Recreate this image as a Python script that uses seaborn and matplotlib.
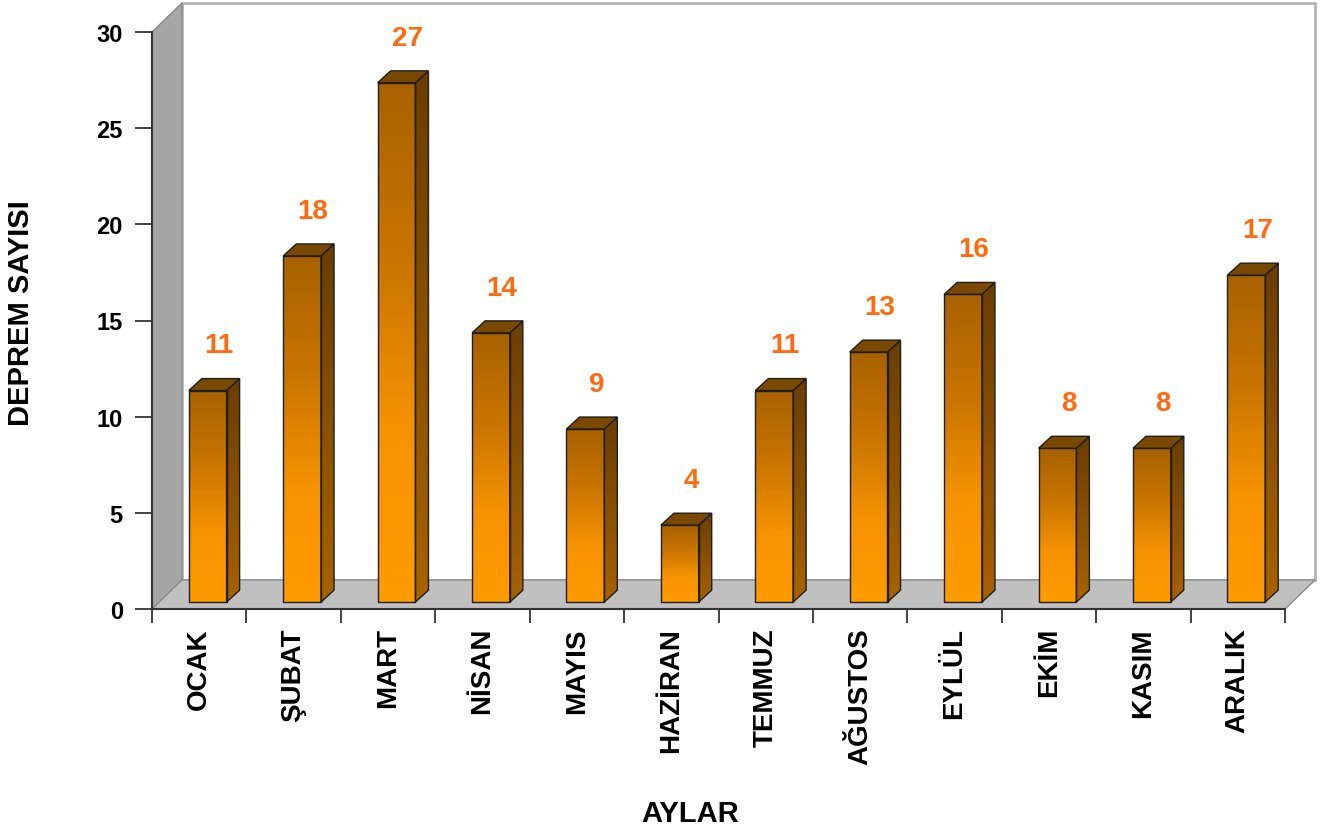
import numpy as np
import matplotlib
matplotlib.use('Agg')
import matplotlib.pyplot as plt
import seaborn as sns
from matplotlib.patches import Polygon, Rectangle
from matplotlib.colors import LinearSegmentedColormap

# data
months = ['OCAK', 'ŞUBAT', 'MART', 'NİSAN', 'MAYIS', 'HAZİRAN',
          'TEMMUZ', 'AĞUSTOS', 'EYLÜL', 'EKİM', 'KASIM', 'ARALIK']
counts = [11, 18, 27, 14, 9, 4, 11, 13, 16, 8, 8, 17]
y_ticks = [0, 5, 10, 15, 20, 25, 30]

sns.set_theme(style='white')
plt.rcParams['font.family'] = ['Liberation Sans', 'DejaVu Sans']
plt.rcParams['text.color'] = 'black'
plt.rcParams['axes.labelcolor'] = 'black'
plt.rcParams['xtick.labelcolor'] = 'black'
plt.rcParams['ytick.labelcolor'] = 'black'

fig = plt.figure(figsize=(13.26, 8.29), dpi=100)
ax = fig.add_axes([152 / 1326, 1 - 610 / 829, 1133 / 1326, 577 / 829])
ax.set_facecolor('none')

# 3D look: depth offsets in data units
wx, wy = 0.318, 1.51    # walls / floor depth
sx, sy = 0.09, 0.36     # bar front plane shift
bx, by = 0.138, 0.62    # bar depth

left, right, top = -0.5, len(months) - 0.5, 30

# back wall, left wall, floor
ax.add_patch(Rectangle((left + wx, wy), right - left, top, facecolor='white',
                       edgecolor='#b4b4b4', lw=2, clip_on=False, zorder=0))
ax.add_patch(Polygon([(left, 0), (left, top), (left + wx, top + wy), (left + wx, wy)],
                     facecolor='#a6a6a6', edgecolor='#8a8a8a', lw=1, clip_on=False, zorder=0.5))
ax.add_patch(Polygon([(left, 0), (left + wx, wy), (right + wx, wy), (right, 0)],
                     facecolor='#c0c0c0', edgecolor='#8a8a8a', lw=1, clip_on=False, zorder=0.5))

# front faces of bars
sns.barplot(x=months, y=counts, ax=ax, width=0.4, color='#ff9c00', saturation=1)

front_cmap = LinearSegmentedColormap.from_list('front', ['#ff9c00', '#f59200', '#c87400', '#a86200'])
side_cmap = LinearSegmentedColormap.from_list('side', ['#a86200', '#8a5000', '#6a3d00'])
grad = np.linspace(0, 1, 256).reshape(-1, 1)

for p in ax.patches[3:]:
    x0 = p.get_x() + sx
    w = p.get_width()
    h = p.get_height()
    p.set_x(x0)
    p.set_y(sy)
    p.set_facecolor('none')
    p.set_edgecolor('#1e1e1e')
    p.set_linewidth(1)
    p.set_zorder(4)
    y0, y1 = sy, sy + h
    im = ax.imshow(grad, cmap=front_cmap, origin='lower', aspect='auto',
                   extent=[x0, x0 + w, y0, y1], zorder=2)
    im.set_clip_path(p)
    # side face
    side = Polygon([(x0 + w, y0), (x0 + w + bx, y0 + by), (x0 + w + bx, y1 + by), (x0 + w, y1)],
                   facecolor='none', edgecolor='#1e1e1e', lw=1, zorder=4)
    ax.add_patch(side)
    ims = ax.imshow(grad, cmap=side_cmap, origin='lower', aspect='auto',
                    extent=[x0 + w, x0 + w + bx, y0, y1 + by], zorder=2)
    ims.set_clip_path(side)
    # top face
    ax.add_patch(Polygon([(x0, y1), (x0 + bx, y1 + by), (x0 + w + bx, y1 + by), (x0 + w, y1)],
                         facecolor='#7a4900', edgecolor='#1e1e1e', lw=1, zorder=4, clip_on=False))

# value labels
for i, v in enumerate(counts):
    ax.text(i + 0.207, v + sy + 2.35, str(v), ha='center', va='center',
            fontsize=20, fontweight='bold', color='#ff6a10', zorder=5)

ax.set_xlim(left, right)
ax.set_ylim(0, top)
ax.set_yticks(y_ticks)
ax.set_xticks(range(len(months)))
ax.set_xticklabels(months, rotation=90, fontsize=20, fontweight='bold', va='top', ha='center')
ax.set_xticks(np.arange(-0.5, len(months)), minor=True)
ax.set_yticklabels([str(t) for t in y_ticks], fontsize=17, fontweight='bold')
ax.tick_params(axis='x', which='major', length=0, pad=13, bottom=True)
ax.tick_params(axis='x', which='minor', length=10, width=1.2, color='#222222', direction='out', bottom=True)
ax.tick_params(axis='y', length=12, width=1.2, color='#222222', direction='out', pad=9, left=True)

for s in ['top', 'right']:
    ax.spines[s].set_visible(False)
for s in ['left', 'bottom']:
    ax.spines[s].set_color('#333333')
    ax.spines[s].set_linewidth(1.5)
    ax.spines[s].set_zorder(3)

ax.set_xlabel('AYLAR', fontsize=21, fontweight='bold')
ax.xaxis.set_label_coords(0.475, -0.33)
ax.set_ylabel('DEPREM SAYISI', fontsize=21, fontweight='bold')
ax.yaxis.set_label_coords(-0.103, 0.515)

fig.savefig('out.png', dpi=100)
